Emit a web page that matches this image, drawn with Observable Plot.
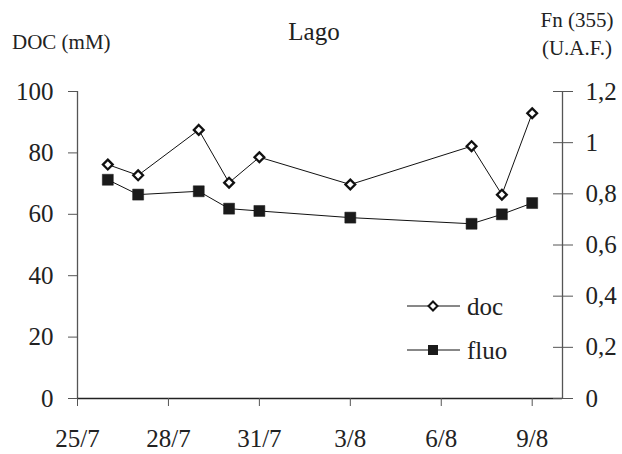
<!DOCTYPE html>
<html>
<head>
<meta charset="utf-8">
<script src="https://cdn.jsdelivr.net/npm/d3@7"></script>
<script src="https://cdn.jsdelivr.net/npm/@observablehq/plot@0.6"></script>
<style>
  body { margin: 0; background: #fff; }
  #wrap { position: relative; width: 622px; height: 454px; font-family: "Liberation Serif", "Times New Roman", Times, Tinos, "DejaVu Serif", serif; color: #222; }
  .lbl { position: absolute; white-space: nowrap; line-height: 1; }
  #legend { position: absolute; left: 0; top: 0; }
  svg text { font-family: "Liberation Serif", "Times New Roman", Times, Tinos, "DejaVu Serif", serif !important; }
</style>
</head>
<body>
<div id="wrap"></div>
<script>
// ---- data ----
const dates = ["2008-07-26","2008-07-27","2008-07-29","2008-07-30","2008-07-31","2008-08-03","2008-08-07","2008-08-08","2008-08-09"];
const docValues = [76.2, 72.7, 87.5, 70.3, 78.6, 69.7, 82.2, 66.4, 92.9];
const fluoValues = [0.855, 0.797, 0.81, 0.742, 0.733, 0.707, 0.683, 0.72, 0.764];
const xTickDates = ["2008-07-25","2008-07-28","2008-07-31","2008-08-03","2008-08-06","2008-08-09"];
const xDomain = ["2008-07-25","2008-08-10"];
const leftTicks = [0, 20, 40, 60, 80, 100];
const rightTicks = [0, 0.2, 0.4, 0.6, 0.8, 1, 1.2];
const leftMax = 100, rightMax = 1.2;
const title = "Lago";
const leftTitle = "DOC (mM)";
const rightTitle = ["Fn (355)", "(U.A.F.)"];
const seriesNames = ["doc", "fluo"];

const parse = d3.utcParse("%Y-%m-%d");
const k = leftMax / rightMax;
const docData = dates.map((d, i) => ({date: parse(d), v: docValues[i]}));
const fluoData = dates.map((d, i) => ({date: parse(d), v: fluoValues[i] * k}));
const fmtDate = d => `${d.getUTCDate()}/${d.getUTCMonth() + 1}`;
const fmtComma = v => String(+(v / k).toFixed(2)).replace(".", ",");
const axisColor = "#555";
const FONT = "'Liberation Serif', 'Times New Roman', Times, Tinos, 'DejaVu Serif', serif";

const chart = Plot.plot({
  width: 622,
  height: 454,
  marginLeft: 77,
  marginRight: 60,
  marginTop: 91,
  marginBottom: 56,
  style: {fontFamily: FONT, fontSize: "25px", color: "#222", background: "#fff"},
  x: {type: "utc", domain: xDomain.map(parse)},
  y: {domain: [0, leftMax]},
  marks: [
    Plot.ruleX([parse(xDomain[0])], {stroke: axisColor, strokeWidth: 1.3}),
    Plot.ruleX([parse(xDomain[1])], {stroke: axisColor, strokeWidth: 1.3}),
    Plot.ruleY([0], {stroke: "#222", strokeWidth: 1.3}),
    Plot.axisX(xTickDates.map(parse), {anchor: "bottom", tickSize: 8, tickPadding: 23, tickFormat: fmtDate, stroke: axisColor, fill: "#222", label: null}),
    Plot.axisY(leftTicks, {anchor: "left", tickSize: 9, tickPadding: 15, stroke: axisColor, fill: "#222", label: null}),
    Plot.axisY(rightTicks.map(v => v * k), {anchor: "right", tickSize: 20, dx: -10, tickFormat: () => "", stroke: axisColor, label: null}),
    Plot.axisY(rightTicks.map(v => v * k), {anchor: "right", tickSize: 0, tickPadding: 23, tickFormat: fmtComma, fill: "#222", textAnchor: "start", label: null}),
    Plot.line(docData, {x: "date", y: "v", stroke: "#111", strokeWidth: 1}),
    Plot.line(fluoData, {x: "date", y: "v", stroke: "#111", strokeWidth: 1}),
    Plot.dot(fluoData, {x: "date", y: "v", symbol: "square", r: 6.2, fill: "#1a1a1a", stroke: "#1a1a1a", strokeWidth: 0.5}),
    Plot.dot(docData, {x: "date", y: "v", symbol: "diamond2", r: 4.4, fill: "#fff", stroke: "#111", strokeWidth: 2.3})
  ]
});

const wrap = document.getElementById("wrap");
wrap.appendChild(chart);

function addLabel(text, left, top, size, align) {
  const el = document.createElement("div");
  el.className = "lbl";
  el.textContent = text;
  el.style.fontSize = size + "px";
  el.style.top = top + "px";
  if (align === "center") { el.style.left = (left - 200) + "px"; el.style.width = "400px"; el.style.textAlign = "center"; }
  else el.style.left = left + "px";
  wrap.appendChild(el);
}
addLabel(title, 314, 19, 25, "center");
addLabel(leftTitle, 12, 32, 21);
addLabel(rightTitle[0], 577, 10, 21, "center");
addLabel(rightTitle[1], 577, 38, 21, "center");

// legend
const ns = "http://www.w3.org/2000/svg";
const lg = document.createElementNS(ns, "svg");
lg.setAttribute("id", "legend");
lg.setAttribute("width", 622);
lg.setAttribute("height", 454);
lg.style.pointerEvents = "none";
const rows = [{name: seriesNames[0], y: 306, sym: "diamond"}, {name: seriesNames[1], y: 350, sym: "square"}];
rows.forEach(r => {
  const line = document.createElementNS(ns, "line");
  line.setAttribute("x1", 407); line.setAttribute("x2", 460);
  line.setAttribute("y1", r.y); line.setAttribute("y2", r.y);
  line.setAttribute("stroke", "#111");
  lg.appendChild(line);
  const p = document.createElementNS(ns, "path");
  if (r.sym === "diamond") {
    p.setAttribute("d", "M433,301.5L437.5,306L433,310.5L428.5,306Z");
    p.setAttribute("fill", "#fff"); p.setAttribute("stroke", "#111"); p.setAttribute("stroke-width", 2);
  } else {
    p.setAttribute("d", `M428,${r.y - 5}h10v10h-10Z`);
    p.setAttribute("fill", "#1a1a1a");
  }
  lg.appendChild(p);
  const t = document.createElementNS(ns, "text");
  t.setAttribute("x", 467); t.setAttribute("y", r.y + 9);
  t.setAttribute("font-size", 25);
  t.setAttribute("fill", "#222");
  t.textContent = r.name;
  lg.appendChild(t);
});
wrap.appendChild(lg);
</script>
</body>
</html>
